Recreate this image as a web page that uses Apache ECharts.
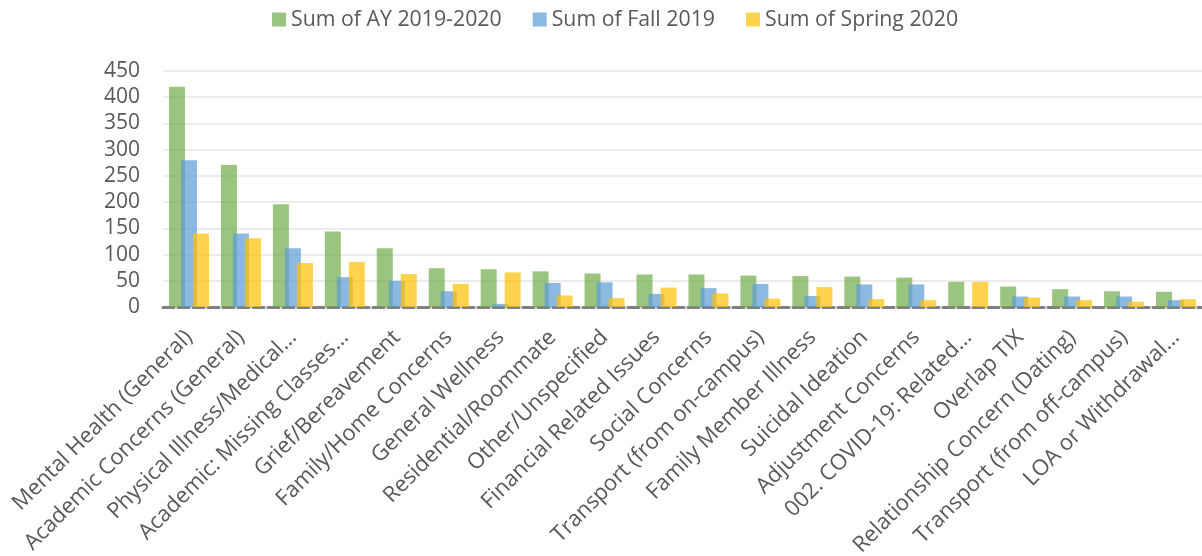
<!DOCTYPE html>
<html>
<head>
<meta charset="utf-8">
<script src="https://cdn.jsdelivr.net/npm/echarts@6/dist/echarts.min.js"></script>
<style>
html, body { margin: 0; padding: 0; background: #fff; }
#myChart { width: 1202px; height: 556px; }
</style>
</head>
<body>
<div id="myChart"></div>
<script type="text/javascript">
// 类别与数据
var categories = [
	'Mental Health (General)', 'Academic Concerns (General)', 'Physical Illness/Medical…',
	'Academic: Missing Classes…', 'Grief/Bereavement', 'Family/Home Concerns',
	'General Wellness', 'Residential/Roommate', 'Other/Unspecified',
	'Financial Related Issues', 'Social Concerns', 'Transport (from on-campus)',
	'Family Member Illness', 'Suicidal Ideation', 'Adjustment Concerns',
	'002. COVID-19: Related…', 'Overlap TIX', 'Relationship Concern (Dating)',
	'Transport (from off-campus)', 'LOA or Withdrawal…'
];
var ayValues = [420, 271, 196, 144, 112, 74, 72, 68, 64, 62, 62, 60, 59, 58, 56, 48, 39, 34, 30, 29];
var fallValues = [280, 140, 112, 57, 50, 30, 6, 46, 47, 25, 36, 44, 21, 43, 43, 0, 20, 20, 20, 13];
var springValues = [140, 131, 84, 86, 63, 44, 66, 22, 17, 37, 26, 16, 38, 15, 13, 48, 18, 13, 10, 15];
var seriesNames = ['Sum of AY 2019-2020', 'Sum of Fall 2019', 'Sum of Spring 2020'];
var yTicks = [0, 50, 100, 150, 200, 250, 300, 350, 400, 450];

var font = 'Open Sans';
var colors = ['#70AD47', '#5B9BD5', '#FFC000'];

function barSeries(name, data, color)
{
	return {
		name: name,
		type: 'bar',
		data: data,
		barGap: '-25%',
		barCategoryGap: '23%',
		itemStyle: { color: color, opacity: 0.7 }
	};
}

var option = {
	animation: false,
	color: colors,
	legend:
	{
		top: 4,
		left: 267,
		itemWidth: 14,
		itemHeight: 14,
		itemGap: 31,
		icon: 'rect',
		textStyle: { fontFamily: font, fontSize: 21.3, color: '#595959' },
		data: seriesNames
	},
	grid:
	{
		left: 163,
		right: 0,
		top: 71,
		bottom: 249,
		containLabel: false,
		outerBoundsMode: 'none'
	},
	xAxis:
	{
		type: 'category',
		data: categories,
		axisTick: { show: false },
		axisLine: { lineStyle: { color: '#808080', width: 3, type: [11, 4] } },
		axisLabel:
		{
			interval: 0,
			rotate: 45,
			margin: 27,
			fontFamily: font,
			fontSize: 22,
			color: '#595959'
		}
	},
	yAxis:
	{
		type: 'value',
		min: yTicks[0],
		max: yTicks[yTicks.length - 1],
		interval: 50,
		axisLabel: { fontFamily: font, fontSize: 21, color: '#595959', margin: 23 },
		splitLine: { lineStyle: { color: '#ececec', width: 2 } },
		axisLine: { show: false },
		axisTick: { show: false }
	},
	series:
	[
		barSeries(seriesNames[0], ayValues, colors[0]),
		barSeries(seriesNames[1], fallValues, colors[1]),
		barSeries(seriesNames[2], springValues, colors[2])
	]
};
echarts.init(document.getElementById('myChart')).setOption(option);
</script>
</body>
</html>
